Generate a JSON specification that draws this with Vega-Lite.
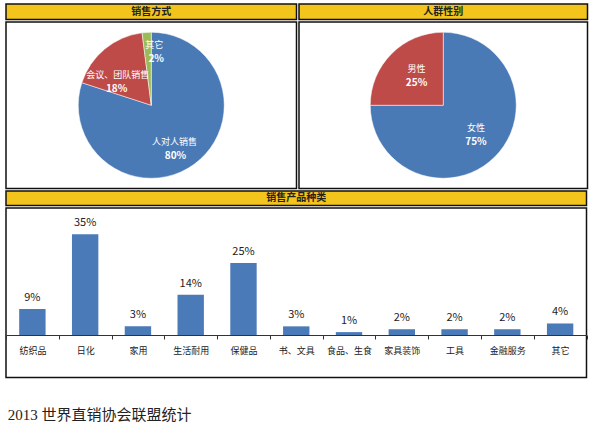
{
  "$schema": "https://vega.github.io/schema/vega-lite/v6.json",
  "padding": {"left": 4, "top": 3, "right": 5, "bottom": 5},
  "background": "white",
  "config": {
    "font": "Noto Sans CJK SC",
    "view": {"stroke": "#111111", "strokeWidth": 1.5},
    "concat": {"spacing": 0},
    "title": {"font": "Liberation Serif, Noto Sans CJK SC"}
  },
  "title": {
    "text": "2013 世界直销协会联盟统计",
    "orient": "bottom",
    "anchor": "start",
    "fontSize": 15,
    "fontWeight": "normal",
    "color": "#222222",
    "offset": 30,
    "dx": 3
  },
  "vconcat": [
    {
      "hconcat": [
        {
          "vconcat": [
            {
              "width": 290.5,
              "height": 15.5,
              "view": {"fill": "#F2C41C", "stroke": "#111111", "strokeWidth": 1.5},
              "data": {"values": [{"title": "销售方式"}]},
              "mark": {"type": "text", "fontSize": 10, "fontWeight": "bold", "color": "#222222"},
              "encoding": {"text": {"field": "title"}}
            },
            {
              "width": 290.5,
              "height": 166.5,
              "view": {"fill": "white", "stroke": "#111111", "strokeWidth": 1.5},
              "data": {"values": [
                {"name": "人对人销售", "value": 0.80},
                {"name": "会议、团队销售", "value": 0.18},
                {"name": "其它", "value": 0.02}
              ]},
              "encoding": {
                "theta": {"field": "value", "type": "quantitative", "stack": true},
                "order": {"field": "value", "sort": "descending"}
              },
              "layer": [
                {
                  "mark": {"type": "arc", "outerRadius": 73, "stroke": "white", "strokeWidth": 0.5},
                  "encoding": {
                    "color": {
                      "field": "name",
                      "type": "nominal",
                      "scale": {"domain": ["人对人销售", "会议、团队销售", "其它"], "range": ["#4A7AB5", "#BE4B48", "#9BBB59"]},
                      "legend": null
                    }
                  }
                },
                {
                  "mark": {"type": "text", "radius": 48, "dx": -5, "dy": -2, "fontSize": 9, "color": "white"},
                  "encoding": {"text": {"condition": {"test": "datum.name === '人对人销售'", "field": "name"}, "value": ""}}
                },
                {
                  "mark": {"type": "text", "radius": 48, "dx": -4, "dy": 12, "fontSize": 10, "fontWeight": "bold", "color": "white"},
                  "encoding": {"text": {"condition": {"test": "datum.name === '人对人销售'", "field": "value", "type": "quantitative", "format": ".0%"}, "value": ""}}
                },
                {
                  "mark": {"type": "text", "radius": 48, "dx": -3, "dy": 7, "fontSize": 9, "color": "white"},
                  "encoding": {"text": {"condition": {"test": "datum.name === '会议、团队销售'", "field": "name"}, "value": ""}}
                },
                {
                  "mark": {"type": "text", "radius": 48, "dx": -4, "dy": 21, "fontSize": 10, "fontWeight": "bold", "color": "white"},
                  "encoding": {"text": {"condition": {"test": "datum.name === '会议、团队销售'", "field": "value", "type": "quantitative", "format": ".0%"}, "value": ""}}
                },
                {
                  "mark": {"type": "text", "radius": 48, "dx": 6, "dy": -12, "fontSize": 9, "color": "white"},
                  "encoding": {"text": {"condition": {"test": "datum.name === '其它'", "field": "name"}, "value": ""}}
                },
                {
                  "mark": {"type": "text", "radius": 48, "dx": 8, "dy": 1.5, "fontSize": 10, "fontWeight": "bold", "color": "white"},
                  "encoding": {"text": {"condition": {"test": "datum.name === '其它'", "field": "value", "type": "quantitative", "format": ".0%"}, "value": ""}}
                }
              ]
            }
          ]
        },
        {
          "vconcat": [
            {
              "width": 288.5,
              "height": 15.5,
              "view": {"fill": "#F2C41C", "stroke": "#111111", "strokeWidth": 1.5},
              "data": {"values": [{"title": "人群性别"}]},
              "mark": {"type": "text", "fontSize": 10, "fontWeight": "bold", "color": "#222222"},
              "encoding": {"text": {"field": "title"}}
            },
            {
              "width": 288.5,
              "height": 166.5,
              "view": {"fill": "white", "stroke": "#111111", "strokeWidth": 1.5},
              "data": {"values": [
                {"name": "女性", "value": 0.75},
                {"name": "男性", "value": 0.25}
              ]},
              "encoding": {
                "theta": {"field": "value", "type": "quantitative", "stack": true},
                "order": {"field": "value", "sort": "descending"}
              },
              "layer": [
                {
                  "mark": {"type": "arc", "outerRadius": 73, "stroke": "white", "strokeWidth": 0.5},
                  "encoding": {
                    "color": {
                      "field": "name",
                      "type": "nominal",
                      "scale": {"domain": ["女性", "男性"], "range": ["#4A7AB5", "#BE4B48"]},
                      "legend": null
                    }
                  }
                },
                {
                  "mark": {"type": "text", "radius": 42, "dx": 3, "dy": -6.5, "fontSize": 9, "color": "white"},
                  "encoding": {"text": {"field": "name"}}
                },
                {
                  "mark": {"type": "text", "radius": 42, "dx": 3, "dy": 7.5, "fontSize": 10, "fontWeight": "bold", "color": "white"},
                  "encoding": {"text": {"field": "value", "type": "quantitative", "format": ".0%"}}
                }
              ]
            }
          ]
        }
      ]
    },
    {
      "vconcat": [
        {
          "width": 580.5,
          "height": 14.5,
          "view": {"fill": "#F2C41C", "stroke": "#111111", "strokeWidth": 1.5},
          "data": {"values": [{"title": "销售产品种类"}]},
          "mark": {"type": "text", "fontSize": 10, "fontWeight": "bold", "color": "#222222"},
          "encoding": {"text": {"field": "title"}}
        },
        {
          "width": 580.5,
          "height": 169.5,
          "view": {"fill": "white", "stroke": "#111111", "strokeWidth": 1.5},
          "data": {"values": [
            {"category": "纺织品", "share": 0.09},
            {"category": "日化", "share": 0.35},
            {"category": "家用", "share": 0.03},
            {"category": "生活耐用", "share": 0.14},
            {"category": "保健品", "share": 0.25},
            {"category": "书、文具", "share": 0.03},
            {"category": "食品、生食", "share": 0.01},
            {"category": "家具装饰", "share": 0.02},
            {"category": "工具", "share": 0.02},
            {"category": "金融服务", "share": 0.02},
            {"category": "其它", "share": 0.04}
          ]},
          "encoding": {
            "x": {
              "field": "category",
              "type": "nominal",
              "sort": null,
              "scale": {"paddingInner": 0, "paddingOuter": 0},
              "axis": {
                "title": null,
                "labelAngle": 0,
                "labelFontSize": 9,
                "labelColor": "#222222",
                "labelPadding": 7,
                "tickBand": "extent",
                "tickSize": 4,
                "tickColor": "#333333",
                "domainColor": "#333333",
                "offset": -42.5
              }
            },
            "y": {
              "field": "share",
              "type": "quantitative",
              "scale": {"domain": [-0.1476, 0.441], "nice": false},
              "axis": null
            }
          },
          "layer": [
            {
              "mark": {"type": "bar", "width": {"band": 0.5}, "color": "#4A7AB7"}
            },
            {
              "mark": {"type": "text", "baseline": "bottom", "dy": -6, "fontSize": 11, "color": "#222222"},
              "encoding": {"text": {"field": "share", "type": "quantitative", "format": ".0%"}}
            }
          ]
        }
      ]
    }
  ]
}
